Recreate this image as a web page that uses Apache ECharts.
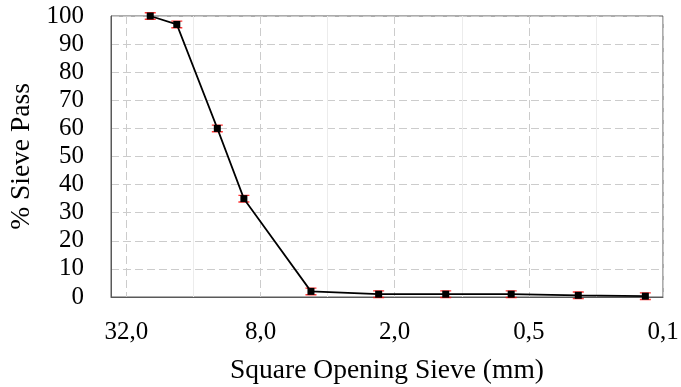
<!DOCTYPE html>
<html>
<head>
<meta charset="utf-8">
<script src="https://cdn.jsdelivr.net/npm/echarts@6/dist/echarts.min.js"></script>
<style>html,body{margin:0;padding:0;background:#fff}#c{width:681px;height:387px}</style>
</head>
<body>
<div id="c"></div>
<script>
const sieveSizes = [25, 19, 12.5, 9.5, 4.75, 2.36, 1.18, 0.6, 0.3, 0.15];
const percentPass = [100, 97, 60, 35, 2, 1, 1, 1, 0.6, 0.3];
const xTickValues = [32, 8, 2, 0.5, 0.125];
const xTickLabels = ['32,0', '8,0', '2,0', '0,5', '0,1'];
const xTitle = 'Square Opening Sieve (mm)';
const yTitle = '% Sieve Pass';

const FONT = '"Liberation Serif", "Times New Roman", serif';
const pts = sieveSizes.map((s, i) => [s, percentPass[i]]);

function xLabel(v) {
  for (let i = 0; i < xTickValues.length; i++) {
    if (Math.abs(v - xTickValues[i]) / xTickValues[i] < 1e-4) return xTickLabels[i];
  }
  return '';
}

const baseX = {
  type: 'log', logBase: 2, min: 0.125, max: 37.5, interval: 1, inverse: true,
  axisTick: { show: false }
};

const chart = echarts.init(document.getElementById('c'), null, { renderer: 'canvas' });
chart.setOption({
  animation: false,
  grid: { left: 111, right: 18, top: 16, bottom: 90, containLabel: false, outerBoundsMode: 'none', show: true, borderColor: '#595959', borderWidth: 1, backgroundColor: 'transparent' },
  xAxis: [
    Object.assign({}, baseX, {
      name: xTitle, nameLocation: 'middle', nameGap: 60,
      nameTextStyle: { fontFamily: FONT, fontSize: 27.5, color: '#000' },
      axisLine: { show: true, lineStyle: { color: '#595959', width: 1 } },
      axisLabel: { formatter: xLabel, fontFamily: FONT, fontSize: 25, color: '#000', margin: 23, showMinLabel: true, showMaxLabel: true },
      splitLine: { show: true, lineStyle: { color: ['#cccccc', 'rgba(0,0,0,0)'], type: [8, 4], width: 1 } }
    }),
    Object.assign({}, baseX, {
      axisLine: { show: false },
      axisLabel: { show: false },
      splitLine: { show: true, lineStyle: { color: ['rgba(0,0,0,0)', '#ececec'], type: 'solid', width: 1 } }
    })
  ],
  yAxis: {
    type: 'value', min: 0, max: 100, interval: 10,
    name: yTitle, nameLocation: 'middle', nameGap: 74, nameRotate: 90,
    nameTextStyle: { fontFamily: FONT, fontSize: 27.5, color: '#000' },
    axisLine: { show: true, lineStyle: { color: '#595959' } },
    axisTick: { show: false },
    axisLabel: { fontFamily: FONT, fontSize: 25, color: '#000', margin: 27 },
    splitLine: { show: true, lineStyle: { color: '#cccccc', type: [8, 4], width: 1 } }
  },
  series: [
    {
      type: 'scatter', xAxisIndex: 0, data: pts, z: 2,
      symbol: 'path://M0,0H12V1.6H0Z M0,7.4H12V9H0Z', symbolSize: [11, 8],
      itemStyle: { color: '#ff0000' }, silent: true
    },
    {
      type: 'line', xAxisIndex: 0, data: pts, z: 3,
      symbol: 'rect', symbolSize: 7, showSymbol: true,
      lineStyle: { color: '#000', width: 1.75 },
      itemStyle: { color: '#000' }
    }
  ]
});
</script>
</body>
</html>
